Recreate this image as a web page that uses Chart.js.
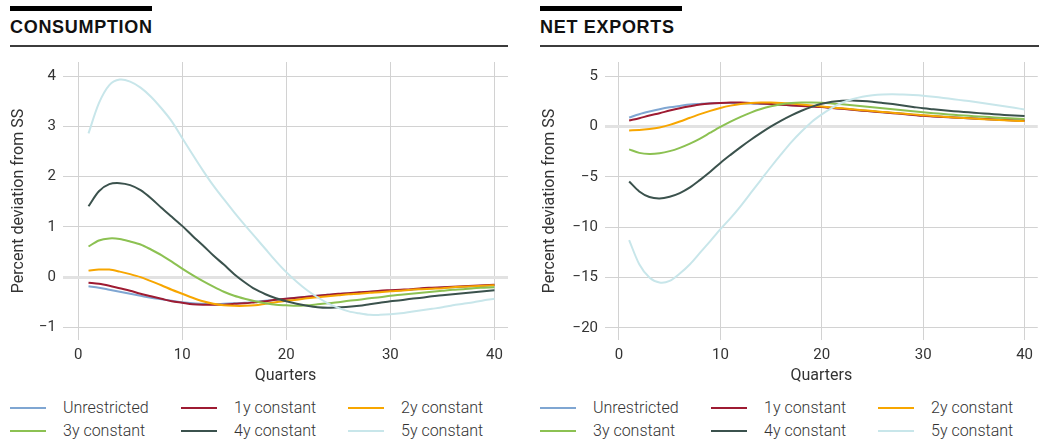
<!DOCTYPE html>
<html>
<head>
<meta charset="utf-8">
<script src="https://cdn.jsdelivr.net/npm/chart.js@4.4.1/dist/chart.umd.min.js"></script>
<style>
  body { margin: 0; width: 1039px; height: 441px; background: #fff; position: relative; overflow: hidden;
         font-family: Roboto, "Liberation Sans", sans-serif; }
  .panel { position: absolute; top: 0; height: 441px; }
  .bar { position: absolute; left: 10px; top: 6px; width: 142px; height: 5px; background: #000; }
  .title { position: absolute; left: 10px; top: 17px; font: bold 18px "Liberation Sans", Arial, sans-serif;
           letter-spacing: 0.7px; color: #111; }
  .rule { position: absolute; left: 10px; top: 45px; height: 2px; background: #3c3c3c; }
  canvas { position: absolute; left: 0; top: 46px; }
  .legend { position: absolute; left: 10px; top: 396px; display: grid;
            grid-template-columns: 171px 167px 160px; grid-auto-rows: 23px; }
  .item { display: flex; align-items: center; font-size: 16px; font-weight: 300; color: #333; white-space: nowrap; }
  .swatch { width: 36px; height: 2px; margin-right: 17px; flex: none; }
</style>
</head>
<body>
<div class="panel" style="left:0;width:519px">
  <div class="bar"></div>
  <div class="title">CONSUMPTION</div>
  <div class="rule" style="width:498px"></div>
  <canvas id="consumptionChart" width="519" height="344"></canvas>
  <div class="legend" id="consumptionLegend"></div>
</div>
<div class="panel" style="left:530px;width:509px">
  <div class="bar"></div>
  <div class="title">NET EXPORTS</div>
  <div class="rule" style="width:499px"></div>
  <canvas id="exportsChart" width="509" height="344"></canvas>
  <div class="legend" id="exportsLegend"></div>
</div>
<script>
const quarters = [1, 2, 3, 4, 5, 6, 7, 8, 9, 10, 11, 12, 13, 14, 15, 16, 17, 18, 19, 20,
  21, 22, 23, 24, 25, 26, 27, 28, 29, 30, 31, 32, 33, 34, 35, 36, 37, 38, 39, 40];
const quarterTicks = [0, 10, 20, 30, 40];
const consumptionTicks = [-1, 0, 1, 2, 3, 4];
const exportsTicks = [-20, -15, -10, -5, 0, 5];

const seriesNames = ["Unrestricted", "1y constant", "2y constant", "3y constant", "4y constant", "5y constant"];
const seriesColors = ["#7fa6d2", "#9e1b32", "#f7a600", "#8cc152", "#3b524d", "#c8e6ea"];

// Consumption, percent deviation from steady state
const consUnrestricted = [-0.18, -0.21, -0.25, -0.29, -0.33, -0.37, -0.41, -0.44, -0.47, -0.5,
  -0.52, -0.53, -0.54, -0.53, -0.52, -0.51, -0.49, -0.47, -0.45, -0.43,
  -0.41, -0.39, -0.37, -0.35, -0.34, -0.32, -0.31, -0.29, -0.28, -0.27,
  -0.26, -0.25, -0.23, -0.22, -0.21, -0.2, -0.19, -0.18, -0.17, -0.16];
const cons1y = [-0.11, -0.13, -0.17, -0.22, -0.27, -0.33, -0.38, -0.43, -0.48, -0.51,
  -0.54, -0.55, -0.55, -0.55, -0.53, -0.52, -0.5, -0.48, -0.45, -0.43,
  -0.41, -0.39, -0.37, -0.35, -0.33, -0.32, -0.3, -0.29, -0.27, -0.26,
  -0.25, -0.24, -0.22, -0.21, -0.2, -0.19, -0.18, -0.17, -0.16, -0.15];
const cons2y = [0.13, 0.15, 0.15, 0.11, 0.06, 0, -0.08, -0.16, -0.25, -0.33,
  -0.41, -0.48, -0.53, -0.56, -0.57, -0.57, -0.56, -0.53, -0.5, -0.47,
  -0.45, -0.42, -0.4, -0.38, -0.36, -0.34, -0.33, -0.31, -0.3, -0.28,
  -0.27, -0.25, -0.24, -0.23, -0.22, -0.2, -0.19, -0.18, -0.17, -0.16];
const cons3y = [0.61, 0.73, 0.77, 0.76, 0.71, 0.65, 0.55, 0.44, 0.31, 0.17,
  0.04, -0.08, -0.19, -0.29, -0.37, -0.43, -0.48, -0.52, -0.55, -0.56,
  -0.57, -0.56, -0.54, -0.52, -0.5, -0.47, -0.45, -0.42, -0.4, -0.37,
  -0.35, -0.33, -0.31, -0.29, -0.27, -0.25, -0.24, -0.22, -0.21, -0.2];
const cons4y = [1.41, 1.71, 1.85, 1.87, 1.83, 1.73, 1.57, 1.38, 1.2, 1.02,
  0.82, 0.63, 0.43, 0.25, 0.06, -0.1, -0.24, -0.34, -0.42, -0.48,
  -0.53, -0.57, -0.6, -0.61, -0.6, -0.59, -0.57, -0.54, -0.51, -0.48,
  -0.46, -0.43, -0.41, -0.38, -0.36, -0.34, -0.32, -0.3, -0.28, -0.26];
const cons5y = [2.86, 3.46, 3.82, 3.93, 3.89, 3.77, 3.59, 3.36, 3.1, 2.77,
  2.44, 2.12, 1.82, 1.55, 1.29, 1.04, 0.8, 0.56, 0.32, 0.1,
  -0.09, -0.26, -0.4, -0.52, -0.61, -0.68, -0.72, -0.75, -0.75, -0.74,
  -0.72, -0.69, -0.66, -0.63, -0.6, -0.56, -0.53, -0.5, -0.46, -0.43];

// Net exports, percent deviation from steady state
const expUnrestricted = [0.89, 1.22, 1.48, 1.71, 1.9, 2.04, 2.17, 2.24, 2.3, 2.33,
  2.33, 2.3, 2.27, 2.24, 2.2, 2.16, 2.11, 2.06, 2.0, 1.95,
  1.86, 1.77, 1.68, 1.59, 1.5, 1.42, 1.34, 1.26, 1.17, 1.08,
  1.02, 0.96, 0.9, 0.85, 0.8, 0.75, 0.7, 0.66, 0.62, 0.58];
const exp1y = [0.59, 0.82, 1.09, 1.32, 1.58, 1.81, 2.0, 2.17, 2.27, 2.33,
  2.37, 2.37, 2.34, 2.28, 2.22, 2.15, 2.09, 2.03, 1.98, 1.93,
  1.84, 1.75, 1.66, 1.57, 1.48, 1.4, 1.32, 1.24, 1.15, 1.06,
  1.0, 0.94, 0.88, 0.83, 0.78, 0.73, 0.68, 0.64, 0.6, 0.56];
const exp2y = [-0.39, -0.36, -0.26, -0.1, 0.16, 0.49, 0.86, 1.22, 1.55, 1.84,
  2.07, 2.24, 2.33, 2.37, 2.37, 2.34, 2.27, 2.18, 2.08, 1.98,
  1.89, 1.8, 1.71, 1.62, 1.53, 1.44, 1.36, 1.28, 1.2, 1.12,
  1.04, 0.97, 0.9, 0.84, 0.78, 0.72, 0.67, 0.62, 0.57, 0.53];
const exp3y = [-2.27, -2.62, -2.73, -2.66, -2.45, -2.12, -1.7, -1.2, -0.62, -0.05,
  0.48, 0.96, 1.38, 1.73, 2.0, 2.2, 2.33, 2.38, 2.38, 2.35,
  2.28, 2.2, 2.11, 2.01, 1.91, 1.81, 1.71, 1.61, 1.51, 1.41,
  1.32, 1.24, 1.16, 1.09, 1.02, 0.96, 0.9, 0.84, 0.78, 0.73];
const exp4y = [-5.46, -6.45, -7.0, -7.14, -6.97, -6.61, -6.05, -5.3, -4.5, -3.62,
  -2.82, -2.05, -1.32, -0.64, 0.0, 0.58, 1.1, 1.56, 1.95, 2.26,
  2.46, 2.56, 2.58, 2.53, 2.45, 2.34, 2.22, 2.08, 1.94, 1.8,
  1.7, 1.61, 1.52, 1.44, 1.36, 1.29, 1.22, 1.15, 1.09, 1.03];
const exp5y = [-11.28, -13.68, -15.0, -15.49, -15.33, -14.6, -13.68, -12.53, -11.38, -10.2,
  -9.1, -7.9, -6.6, -5.3, -4.0, -2.75, -1.55, -0.5, 0.45, 1.2,
  1.85, 2.35, 2.7, 2.95, 3.1, 3.18, 3.2, 3.17, 3.12, 3.05,
  2.95, 2.83, 2.7, 2.58, 2.45, 2.3, 2.15, 2.0, 1.85, 1.69];

const consumptionSeries = [consUnrestricted, cons1y, cons2y, cons3y, cons4y, cons5y];
const exportsSeries = [expUnrestricted, exp1y, exp2y, exp3y, exp4y, exp5y];

Chart.defaults.font.family = "Roboto, 'Liberation Sans', sans-serif";
Chart.defaults.color = "#333";

const minusSign = (v) => String(v).replace("-", "\u2212");

function buildLegend(containerId) {
  const box = document.getElementById(containerId);
  seriesNames.forEach((name, i) => {
    const item = document.createElement("div");
    item.className = "item";
    const swatch = document.createElement("span");
    swatch.className = "swatch";
    swatch.style.background = seriesColors[i];
    item.appendChild(swatch);
    item.appendChild(document.createTextNode(name));
    box.appendChild(item);
  });
}

function initializeResponseChart(canvasId, series, yTicks, cfg) {
  const ctx = document.getElementById(canvasId).getContext("2d");
  return new Chart(ctx, {
    type: "line",
    data: {
      datasets: series.map((values, i) => ({
        label: seriesNames[i],
        data: quarters.map((q, j) => ({ x: q, y: values[j] })),
        borderColor: seriesColors[i],
        borderWidth: 2,
        pointRadius: 0,
        tension: 0.3,
        fill: false,
        order: series.length - i,
      })),
    },
    options: {
      responsive: false,
      animation: false,
      events: [],
      layout: { padding: { top: 10, right: cfg.padRight, bottom: 0, left: 0 } },
      plugins: { legend: { display: false }, tooltip: { enabled: false } },
      scales: {
        x: {
          type: "linear",
          min: cfg.xMin,
          max: cfg.xMax,
          afterBuildTicks: (axis) => { axis.ticks = quarterTicks.map((v) => ({ value: v })); },
          afterFit: (axis) => { axis.height = 50; },
          grid: { color: "#d2d2d2", lineWidth: 1, drawTicks: false },
          border: { display: false },
          ticks: { padding: 6, font: { size: 15 }, color: "#333" },
          title: { display: true, text: "Quarters", font: { size: 16 }, color: "#333", padding: { top: 0, bottom: 4 } },
        },
        y: {
          min: cfg.yMin,
          max: cfg.yMax,
          afterBuildTicks: (axis) => { axis.ticks = yTicks.map((v) => ({ value: v })); },
          afterFit: (axis) => { axis.width = cfg.yWidth; },
          grid: {
            color: (c) => (c.tick && c.tick.value === 0 ? "#e2e2e2" : "#d2d2d2"),
            lineWidth: (c) => (c.tick && c.tick.value === 0 ? 3 : 1),
            drawTicks: false,
          },
          border: { display: false },
          ticks: { padding: 7, font: { size: 15 }, color: "#333", callback: (v) => minusSign(v) },
          title: {
            display: true,
            text: "Percent deviation from SS",
            font: { size: 16 },
            color: "#333",
            padding: { top: cfg.titlePad, bottom: 0 },
          },
        },
      },
    },
  });
}

initializeResponseChart("consumptionChart", consumptionSeries, consumptionTicks, {
  xMin: -1.45, xMax: 41.3, yMin: -1.25, yMax: 4.28, yWidth: 63, padRight: 11, titlePad: 9,
});
initializeResponseChart("exportsChart", exportsSeries, exportsTicks, {
  xMin: -1.38, xMax: 41.3, yMin: -21.2, yMax: 6.4, yWidth: 75, padRight: 0, titlePad: 10,
});
buildLegend("consumptionLegend");
buildLegend("exportsLegend");
</script>
</body>
</html>
